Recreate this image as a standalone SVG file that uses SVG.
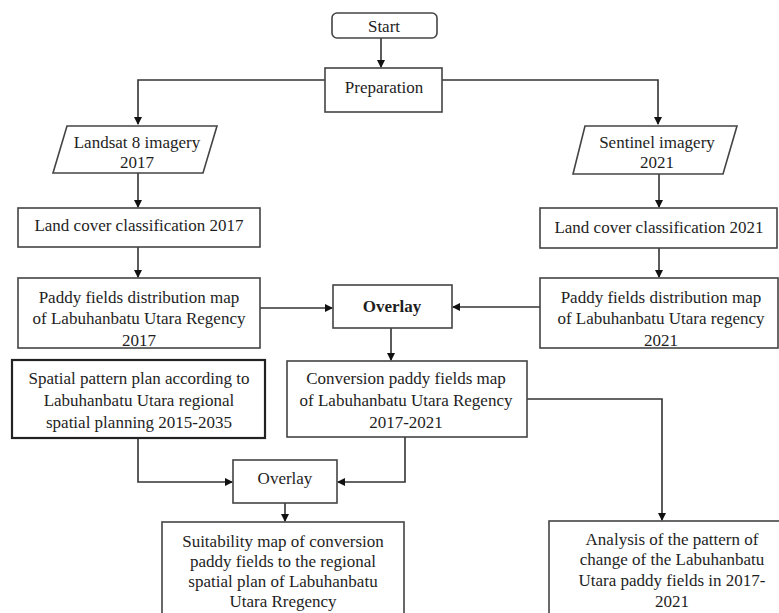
<svg xmlns="http://www.w3.org/2000/svg" width="779" height="613" viewBox="0 0 779 613">
<style>
.box{fill:#fff;stroke:#444;stroke-width:1.6}
.thick{stroke:#222;stroke-width:2.2}
text{font-family:'Liberation Serif','DejaVu Serif','Times New Roman',serif;font-size:17px;fill:#1e1e1e;text-anchor:middle}
.b{font-weight:bold}
.c{fill:none;stroke:#333;stroke-width:1.6}
</style>
<defs>
<marker id="ah" markerWidth="8" markerHeight="8" refX="7" refY="4" orient="auto" markerUnits="userSpaceOnUse">
<path d="M0,0 L8,4 L0,8 Z" fill="#111"/>
</marker>
</defs>
<rect width="779" height="613" fill="#fff"/>
<g id="connectors">
<path class="c" d="M381,38 V67" marker-end="url(#ah)"/>
<path class="c" d="M325,80 H138 V124" marker-end="url(#ah)"/>
<path class="c" d="M442,80 H658 V124" marker-end="url(#ah)"/>
<path class="c" d="M138,173 V207" marker-end="url(#ah)"/>
<path class="c" d="M659,174 V207" marker-end="url(#ah)"/>
<path class="c" d="M138,247 V277" marker-end="url(#ah)"/>
<path class="c" d="M659,248 V277" marker-end="url(#ah)"/>
<path class="c" d="M260,308 H332" marker-end="url(#ah)"/>
<path class="c" d="M540,307 H453" marker-end="url(#ah)"/>
<path class="c" d="M391,328 V360" marker-end="url(#ah)"/>
<path class="c" d="M138,438 V482 H232" marker-end="url(#ah)"/>
<path class="c" d="M405,437 V482 H338" marker-end="url(#ah)"/>
<path class="c" d="M285,503 V521" marker-end="url(#ah)"/>
<path class="c" d="M527,399 H662 V520" marker-end="url(#ah)"/>
</g>
<g id="start">
<rect class="box" x="332" y="13" width="105" height="25" rx="5"/>
<text x="384" y="32" font-family="Liberation Serif, serif">Start</text>
</g>
<g id="preparation">
<rect class="box" x="325" y="68" width="117" height="44"/>
<text x="384" y="93">Preparation</text>
</g>
<g id="landsat">
<polygon class="box" points="67,126 217,126 203,173 53,173"/>
<text x="137" y="148">Landsat 8 imagery</text>
<text x="137" y="168">2017</text>
</g>
<g id="sentinel">
<polygon class="box" points="585,126 737,126 723,174 573,174"/>
<text x="657" y="148">Sentinel imagery</text>
<text x="657" y="168">2021</text>
</g>
<g id="lc2017">
<rect class="box" x="18" y="208" width="242" height="39"/>
<text x="139" y="231">Land cover classification 2017</text>
</g>
<g id="lc2021">
<rect class="box" x="540" y="208" width="237" height="40"/>
<text x="659" y="233">Land cover classification 2021</text>
</g>
<g id="paddy2017">
<rect class="box" x="18" y="278" width="242" height="70"/>
<text x="139" y="303">Paddy fields distribution map</text>
<text x="139" y="324">of Labuhanbatu Utara Regency</text>
<text x="139" y="346">2017</text>
</g>
<g id="paddy2021">
<rect class="box" x="540" y="278" width="238" height="70"/>
<text x="661" y="303">Paddy fields distribution map</text>
<text x="661" y="324">of Labuhanbatu Utara regency</text>
<text x="661" y="346">2021</text>
</g>
<g id="overlay1">
<rect class="box" x="333" y="285" width="119" height="43"/>
<text class="b" x="392" y="312">Overlay</text>
</g>
<g id="spatial">
<rect class="box thick" x="12" y="360" width="253" height="78"/>
<text x="139" y="384">Spatial pattern plan according to</text>
<text x="139" y="406">Labuhanbatu Utara regional</text>
<text x="139" y="428">spatial planning 2015-2035</text>
</g>
<g id="conversion">
<rect class="box" x="287" y="361" width="240" height="76"/>
<text x="406" y="384">Conversion paddy fields map</text>
<text x="406" y="406">of Labuhanbatu Utara Regency</text>
<text x="406" y="428">2017-2021</text>
</g>
<g id="overlay2">
<rect class="box" x="233" y="460" width="104" height="43"/>
<text x="285" y="484">Overlay</text>
</g>
<g id="suitability">
<rect class="box" x="162" y="522" width="242" height="100"/>
<text x="283" y="547">Suitability map of conversion</text>
<text x="283" y="567">paddy fields to the regional</text>
<text x="283" y="587">spatial plan of Labuhanbatu</text>
<text x="283" y="607">Utara Rregency</text>
</g>
<g id="analysis">
<rect class="box" x="549" y="521" width="240" height="100"/>
<text x="672" y="545">Analysis of the pattern of</text>
<text x="672" y="565">change of the Labuhanbatu</text>
<text x="672" y="586">Utara paddy fields in 2017-</text>
<text x="672" y="607">2021</text>
</g>
</svg>
